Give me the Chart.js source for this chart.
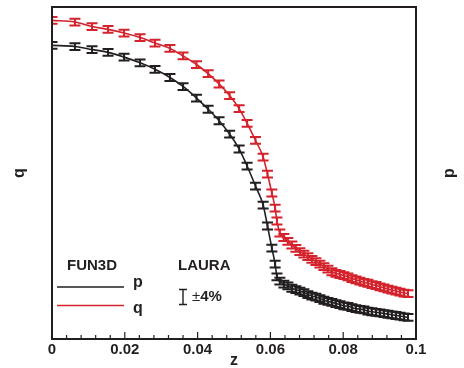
<!DOCTYPE html>
<html>
<head>
<meta charset="utf-8">
<script src="https://cdn.jsdelivr.net/npm/chart.js@4/dist/chart.umd.min.js"></script>
<style>
html,body{margin:0;padding:0;background:#fff;}
#wrap{width:464px;height:368px;position:relative;}
</style>
</head>
<body>
<div id="wrap"><canvas id="c" width="464" height="368"></canvas></div>
<script>
// ---- data ----
const zVals = [0, 0.0063, 0.0110, 0.0154, 0.0198, 0.0242, 0.0283, 0.0324, 0.0360, 0.0397, 0.0429, 0.0459, 0.0488, 0.0514, 0.0536, 0.0559, 0.0580, 0.0592, 0.0604, 0.0613, 0.0618,
  0.0626, 0.0637, 0.0648, 0.0659, 0.0670, 0.0681, 0.0692, 0.0703, 0.0714, 0.0725, 0.0736, 0.0747, 0.0758, 0.0769, 0.0780, 0.0791, 0.0802, 0.0813, 0.0824, 0.0835, 0.0846, 0.0857, 0.0868, 0.0879, 0.0890, 0.0901, 0.0912, 0.0923, 0.0934, 0.0945, 0.0956, 0.0967, 0.0978];
const pVals = [31.8, 31.4, 30.3, 29.3, 27.7, 25.9, 24.0, 21.8, 19.6, 17.1, 15.0, 13.1, 11.2, 9.39, 7.68, 6.07, 4.85, 3.79, 2.92, 2.42, 2.08,
  1.98, 1.91, 1.87, 1.82, 1.79, 1.76, 1.73, 1.69, 1.66, 1.64, 1.61, 1.58, 1.56, 1.54, 1.52, 1.50, 1.48, 1.47, 1.45, 1.43, 1.42, 1.41, 1.39, 1.38, 1.37, 1.36, 1.35, 1.34, 1.33, 1.32, 1.31, 1.30, 1.29];
const qVals = [42.7, 41.9, 39.7, 38.4, 36.8, 34.9, 32.7, 30.7, 28.1, 25.4, 22.8, 20.2, 17.6, 15.1, 12.7, 10.4, 8.54, 6.99, 5.59, 4.68, 4.02,
  3.49, 3.31, 3.16, 3.03, 2.91, 2.80, 2.72, 2.64, 2.56, 2.49, 2.42, 2.35, 2.28, 2.21, 2.17, 2.14, 2.11, 2.08, 2.04, 2.01, 1.98, 1.95, 1.93, 1.90, 1.88, 1.85, 1.83, 1.80, 1.78, 1.76, 1.74, 1.72, 1.71];
const xTickLabels = [0, 0.02, 0.04, 0.06, 0.08, 0.1];
const errFrac = 0.04;
const seriesNames = ['p', 'q'];

const BLACK = '#231f20';
const RED = '#d4232c';
const FONT = '"Liberation Sans", Arial, Helvetica, sans-serif';

function pts(vals){ return zVals.map((z,i)=>({x:z, y:vals[i]})); }

const errorBarPlugin = {
  id: 'errbars',
  afterDatasetsDraw(chart){
    const ctx = chart.ctx, xs = chart.scales.x, ys = chart.scales.y, a = chart.chartArea;
    ctx.save();
    ctx.beginPath(); ctx.rect(a.left, a.top, a.right - a.left, a.bottom - a.top); ctx.clip();
    chart.data.datasets.forEach(ds => {
      ctx.strokeStyle = ds.borderColor; ctx.lineWidth = 2;
      ds.data.forEach(pt => {
        const px = xs.getPixelForValue(pt.x);
        const y1 = ys.getPixelForValue(pt.y * (1 + errFrac));
        const y2 = ys.getPixelForValue(pt.y * (1 - errFrac));
        ctx.beginPath();
        ctx.moveTo(px, y1); ctx.lineTo(px, y2);
        ctx.moveTo(px - 5.5, y1); ctx.lineTo(px + 5.5, y1);
        ctx.moveTo(px - 5.5, y2); ctx.lineTo(px + 5.5, y2);
        ctx.stroke();
      });
    });
    ctx.restore();
  },
  afterDraw(chart){
    const ctx = chart.ctx, xs = chart.scales.x, a = chart.chartArea;
    ctx.save();
    // frame
    ctx.strokeStyle = BLACK; ctx.lineWidth = 2;
    ctx.strokeRect(a.left, a.top, a.right - a.left, a.bottom - a.top);
    // inward ticks on bottom axis
    ctx.lineWidth = 1.2;
    for (let k = 0; k <= 25; k++) {
      const v = k * 0.004;
      const px = xs.getPixelForValue(v);
      const major = (k % 5 === 0);
      ctx.beginPath();
      ctx.moveTo(px, a.bottom);
      ctx.lineTo(px, a.bottom - (major ? 7 : 4));
      ctx.stroke();
    }
    // axis titles
    ctx.fillStyle = BLACK;
    ctx.font = 'bold 16px ' + FONT;
    ctx.textAlign = 'center'; ctx.textBaseline = 'middle';
    ctx.fillText('z', (a.left + a.right) / 2, 361);
    ctx.save(); ctx.translate(20, 173); ctx.rotate(-Math.PI / 2); ctx.fillText('q', 0, 0); ctx.restore();
    ctx.save(); ctx.translate(450, 173); ctx.rotate(-Math.PI / 2); ctx.fillText('p', 0, 0); ctx.restore();
    // legend block
    ctx.textAlign = 'left'; ctx.textBaseline = 'middle';
    ctx.font = 'bold 15px ' + FONT;
    ctx.fillText('FUN3D', 67, 266);
    ctx.fillText('LAURA', 178, 266);
    ctx.lineWidth = 1.5;
    ctx.strokeStyle = BLACK;
    ctx.beginPath(); ctx.moveTo(57, 287); ctx.lineTo(124, 287); ctx.stroke();
    ctx.strokeStyle = RED;
    ctx.beginPath(); ctx.moveTo(57, 305.5); ctx.lineTo(124, 305.5); ctx.stroke();
    ctx.fillStyle = BLACK;
    ctx.font = 'bold 16px ' + FONT;
    ctx.fillText(seriesNames[0], 133, 283);
    ctx.fillText(seriesNames[1], 133, 309);
    // error bar legend
    ctx.strokeStyle = BLACK; ctx.lineWidth = 1.4;
    ctx.beginPath();
    ctx.moveTo(183, 289.5); ctx.lineTo(183, 304.5);
    ctx.moveTo(179, 289.5); ctx.lineTo(187, 289.5);
    ctx.moveTo(179, 304.5); ctx.lineTo(187, 304.5);
    ctx.stroke();
    ctx.font = '15px ' + FONT;
    ctx.fillText('\u00b1', 192, 297);
    const w = ctx.measureText('\u00b1').width;
    ctx.font = 'bold 15px ' + FONT;
    ctx.fillText('4%', 192 + w, 297);
    ctx.restore();
  }
};

new Chart(document.getElementById('c'), {
  type: 'line',
  data: {
    datasets: [
      { label: seriesNames[0], data: pts(pVals), borderColor: BLACK, borderWidth: 1.6, pointRadius: 0, cubicInterpolationMode: 'monotone', fill: false },
      { label: seriesNames[1], data: pts(qVals), borderColor: RED, borderWidth: 1.6, pointRadius: 0, cubicInterpolationMode: 'monotone', fill: false }
    ]
  },
  options: {
    responsive: false,
    animation: false,
    events: [],
    layout: { padding: { left: 52, right: 48, top: 7, bottom: 0 } },
    plugins: { legend: { display: false }, tooltip: { enabled: false } },
    scales: {
      x: {
        type: 'linear', min: 0, max: 0.1,
        afterBuildTicks(s){ s.ticks = xTickLabels.map(v => ({ value: v })); },
        afterFit(s){ s.height = 29; },
        grid: { display: false, drawTicks: false },
        border: { display: false },
        ticks: {
          padding: 3,
          color: BLACK,
          font: { family: FONT, size: 15, weight: 'bold', lineHeight: 1 },
          maxRotation: 0,
          callback: v => String(+v.toFixed(2))
        },
        title: { display: false }
      },
      y: {
        type: 'logarithmic', min: 1, max: 50,
        display: false
      }
    }
  },
  plugins: [errorBarPlugin]
});
</script>
</body>
</html>
